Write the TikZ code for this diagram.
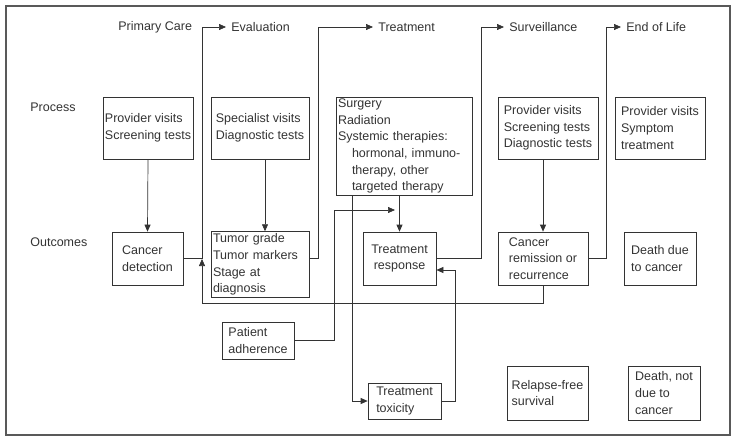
\documentclass[tikz,border=0pt]{standalone}
\usepackage{fontspec}
\setmainfont{Liberation Sans}
\usetikzlibrary{arrows.meta}
\begin{document}
\begin{tikzpicture}  % ------ Parcours de soins et resultats --------
      [x=1pt, y=-1pt, line width=.7pt, color=black!80,
       box/.style={draw, inner sep=2pt, font=\fontsize{12.5}{16.7}\selectfont},
       lab/.style={inner sep=0pt, anchor=west, font=\fontsize{12.5}{15}\selectfont},
       fleche/.style={-{Triangle[length=7pt,width=6pt]}}]
    \useasboundingbox (0,0) rectangle (736,441);
    \draw[line width=1.2pt, black!65] (6,6) rectangle (730,435);
    % etapes
    \node[lab] (hcare) at (118,27) {Primary Care};
    \node[lab, inner xsep=5pt] (heval) at (226,27) {Evaluation};
    \node[lab, inner xsep=5pt] (htreat) at (373,27) {Treatment};
    \node[lab, inner xsep=5pt] (hsurv) at (504,27) {Surveillance};
    \node[lab, inner xsep=5pt] (hend) at (621,27) {End of Life};
    \node[lab] (lprocess) at (30,107) {Process};
    \node[lab] (loutcomes) at (30,242) {Outcomes};
    % processus
    \node[box, minimum width=90pt, minimum height=62pt, align=left] (pcare) at (148,128) {Provider visits\\Screening tests};
    \node[box, minimum width=98pt, minimum height=62pt, align=left] (spec) at (260,128) {Specialist visits\\Diagnostic tests};
    \node[box, minimum width=136pt, minimum height=98pt, inner sep=1pt, text width=132pt, align=left] (treat) at (404,146)
        {Surgery\\Radiation\\Systemic therapies:\\\hspace*{14pt}hormonal, immuno-\\\hspace*{14pt}therapy, other\\\hspace*{14pt}targeted therapy};
    \node[box, minimum width=100pt, minimum height=62pt, align=left] (surv) at (548,128) {Provider visits\\Screening tests\\Diagnostic tests};
    \node[box, minimum width=90pt, minimum height=62pt, align=left] (endl) at (660,128) {Provider visits\\Symptom\\treatment};
    % resultats
    \node[box, minimum width=71pt, minimum height=53pt, align=left] (detect) at (147.5,258.5) {Cancer\\detection};
    \node[box, minimum width=98pt, minimum height=65pt, text width=94pt, align=left] (tumor) at (260,264.5) {Tumor grade\\Tumor markers\\Stage at\\diagnosis};
    \node[box, minimum width=73pt, minimum height=53pt, align=center] (resp) at (399.5,258.5) {Treatment\\response};
    \node[box, minimum width=90pt, minimum height=53pt, align=left] (remis) at (543,258.5) {Cancer\\remission or\\recurrence};
    \node[box, minimum width=72pt, minimum height=53pt, align=left] (death) at (660,258.5) {Death due\\to cancer};
    \node[box, minimum width=72pt, minimum height=37pt, align=left] (adh) at (258,340.5) {Patient\\adherence};
    \node[box, minimum width=73pt, minimum height=36pt, align=left] (tox) at (404.5,401) {Treatment\\toxicity};
    \node[box, minimum width=81pt, minimum height=54pt, align=left] (relapse) at (547.5,393) {Relapse-free\\survival};
    \node[box, minimum width=72pt, minimum height=54pt, align=left] (deathn) at (664,393) {Death, not\\due to\\cancer};
    % coudes
    \coordinate (boucle) at (202,303);
    \coordinate (couloirA) at (202,27);
    \coordinate (couloirB) at (318,27);
    \coordinate (couloirC) at (481,27);
    \coordinate (couloirD) at (606,27);
    \coordinate (coude) at (334,210);
    \coordinate (pointe) at (395,210);
    \coordinate (retour) at (455,270);
    % liaisons
    \draw[fleche] (remis.south) |- (boucle) -- ++(0,-44);  % retour vers evaluation
    \draw[fleche] (detect.east) -| (couloirA) -- (heval.west);
    \draw[fleche] (tumor.east |- detect.east) -| (couloirB) -- (htreat.west);
    \draw[fleche] (resp.east) -| (couloirC) -- (hsurv.west);
    \draw[fleche] (remis.east) -| (couloirD) -- (hend.west);
    \draw[fleche] (pcare.south) -- (detect.north);
    \draw[fleche] ([xshift=5pt]spec.south) -- ([xshift=5pt]tumor.north);
    \draw[fleche] (treat.south -| resp.north) -- (resp.north);
    \draw[fleche] ([xshift=-52pt]treat.south) |- (tox.west);
    \draw[fleche] (adh.east) -| (coude) -- (pointe);
    \draw[fleche] (tox.east) -| (retour) -- (retour -| resp.east);
    \draw[fleche] (surv.south -| remis.north) -- (remis.north);
\end{tikzpicture}
\end{document}
